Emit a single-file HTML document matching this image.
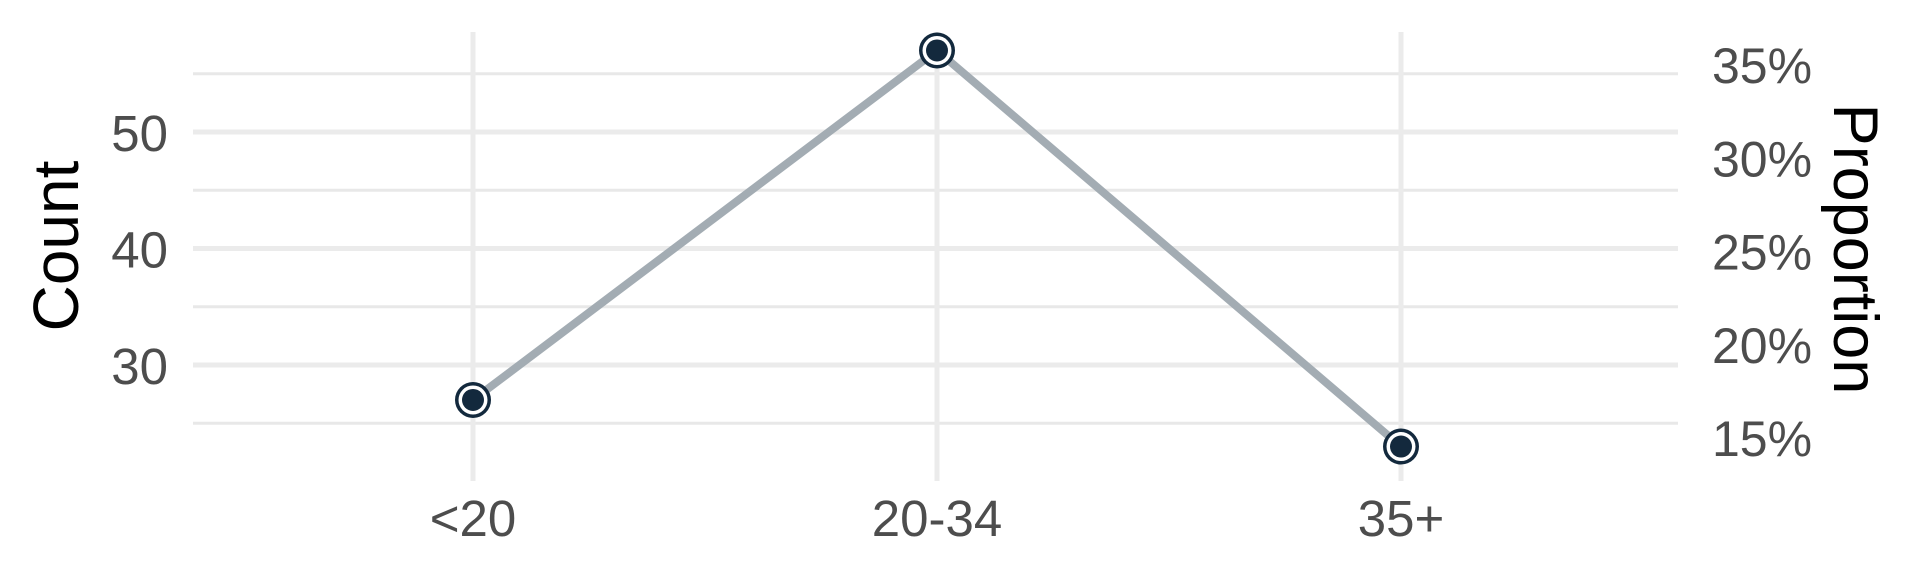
<!DOCTYPE html>
<html><head><meta charset="utf-8"><style>
html,body{margin:0;padding:0;background:#fff;}
svg{display:block;font-family:"Liberation Sans",sans-serif;}
</style></head><body>
<svg id="chart" width="1920" height="576" viewBox="0 0 1920 576" xmlns="http://www.w3.org/2000/svg">
<g id="grid"></g>
<g id="axes"></g>
<g id="marks"></g>
<text transform="translate(78,246) rotate(-90)" text-anchor="middle" font-size="64" fill="#000">Count</text>
<text transform="translate(1834,249) rotate(90)" text-anchor="middle" font-size="63" fill="#000">Proportion</text>
</svg>
<script>
const categories = ["<20", "20-34", "35+"];
const counts = [27, 57, 23];
const yTicks = [30, 40, 50];
const yMinor = [25, 35, 45, 55];
const pTicks = [15, 20, 25, 30, 35];
const pLabels = ["15%", "20%", "25%", "30%", "35%"];

const NS = "http://www.w3.org/2000/svg";
const X0 = 193, X1 = 1678;
const xPos = i => 473 + i * 464;
const yPos = v => 365 - (v - 30) * 11.65;
const pPos = p => 437 - (p - 15) * 18.65;
function mk(tag, attrs, parent) {
  const e = document.createElementNS(NS, tag);
  for (const k in attrs) e.setAttribute(k, attrs[k]);
  parent.appendChild(e);
  return e;
}
const grid = document.getElementById('grid');
const axes = document.getElementById('axes');
const marks = document.getElementById('marks');

yMinor.forEach(v => {
  const l = mk('line', {x1: X0, x2: X1, y1: yPos(v), y2: yPos(v), stroke: '#e8e8e8', 'stroke-width': 3}, grid);
  
  
});
yTicks.forEach(v => {
  const l = mk('line', {x1: X0, x2: X1, y1: yPos(v), y2: yPos(v), stroke: '#ebebeb', 'stroke-width': 5}, grid);
  
  
  const t = mk('text', {x: 168, y: yPos(v) + 19, 'text-anchor': 'end', 'font-size': 51, fill: '#4d4d4d'}, axes);
  t.textContent = String(v);
  
  
});
categories.forEach((c, i) => {
  const l = mk('line', {x1: xPos(i), x2: xPos(i), y1: 32, y2: 481, stroke: '#ebebeb', 'stroke-width': 5}, grid);
  
  
  const t = mk('text', {x: xPos(i), y: 536, 'text-anchor': 'middle', 'font-size': 51, fill: '#4d4d4d'}, axes);
  t.textContent = c;
  
  
});
pTicks.forEach((p, i) => {
  const t = mk('text', {x: 1712, y: pPos(p) + 19, 'text-anchor': 'start', 'font-size': 50, fill: '#4d4d4d'}, axes);
  t.textContent = pLabels[i];
  
  
});
const pts = counts.map((v, i) => xPos(i) + ',' + yPos(v)).join(' ');
const line = mk('polyline', {points: pts, fill: 'none', stroke: '#a3acb3', 'stroke-width': 8}, marks);


counts.forEach((v, i) => {
  const o = mk('circle', {cx: xPos(i), cy: yPos(v), r: 18, fill: '#13293d'}, marks);
  
  
  const w = mk('circle', {cx: xPos(i), cy: yPos(v), r: 14.5, fill: '#ffffff'}, marks);
  
  
  const d = mk('circle', {cx: xPos(i), cy: yPos(v), r: 11, fill: '#13293d'}, marks);
  
  
});
</script>
</body></html>
